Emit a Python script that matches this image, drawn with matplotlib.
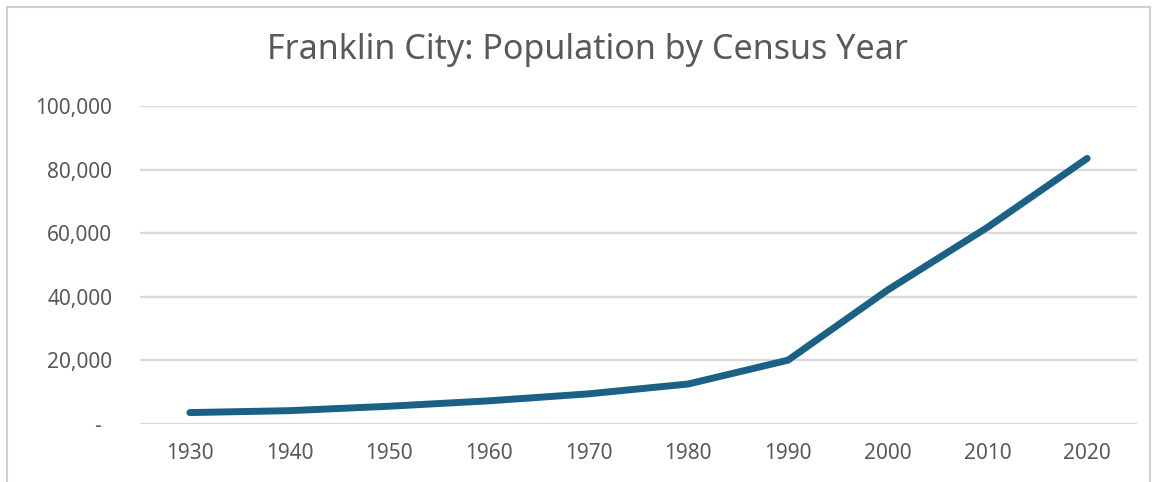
import matplotlib
matplotlib.use("Agg")
import matplotlib.pyplot as plt
from matplotlib.patches import Rectangle

# データ
years = ["1930", "1940", "1950", "1960", "1970", "1980", "1990", "2000", "2010", "2020"]
population = [3500, 4100, 5500, 7200, 9400, 12500, 20000, 42100, 61800, 83500]
y_ticks = [0, 20000, 40000, 60000, 80000, 100000]
y_tick_labels = ["-  ", "20,000", "40,000", "60,000", "80,000", "100,000"]
title = "Franklin City: Population by Census Year"

text_color = "#595959"
grid_color = "#d9d9d9"
line_color = "#1a6185"

plt.rcParams["font.family"] = ["Noto Sans", "DejaVu Sans"]

fig = plt.figure(figsize=(11.56, 4.82), dpi=100)
# グラフ枠
fig.patches.append(Rectangle((7 / 1156, -0.05), 1143 / 1156, 1 - 7 / 482 + 0.05,
                             transform=fig.transFigure, fill=False,
                             edgecolor="#d0d0d0", linewidth=1.5))

ax = fig.add_axes([140 / 1156, 1 - 423.7 / 482, 997 / 1156, (423.7 - 106) / 482])
x = list(range(len(years)))
ax.plot(x, population, color=line_color, linewidth=5,
        solid_joinstyle="round", solid_capstyle="round", zorder=3)

ax.set_xlim(-0.5, len(years) - 0.5)
ax.set_ylim(0, 100000)
ax.set_xticks(x)
ax.set_xticklabels(years)
ax.set_yticks(y_ticks)
ax.set_yticklabels(y_tick_labels)
ax.grid(axis="y", color=grid_color, linewidth=1.7)
ax.set_axisbelow(True)
for s in ax.spines.values():
    s.set_visible(False)
ax.tick_params(axis="both", length=0, labelsize=15, colors=text_color)
ax.tick_params(axis="y", pad=20)
ax.tick_params(axis="x", pad=14)

fig.text(587 / 1156, 1 - 50 / 482, title, ha="center", va="center",
         fontsize=24.5, color=text_color)

plt.savefig("out.png", dpi=100)
